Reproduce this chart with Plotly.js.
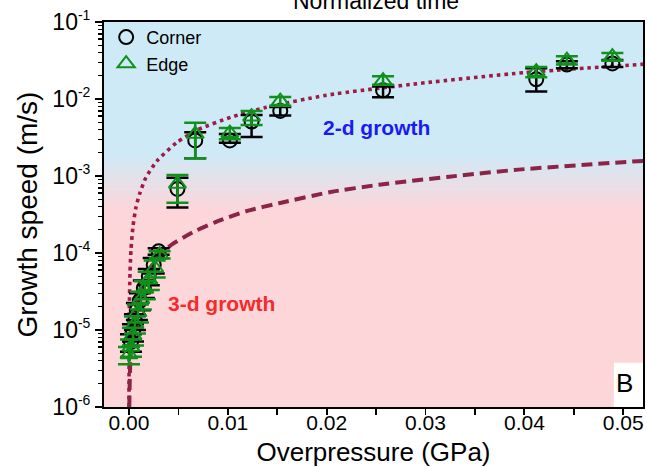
<!DOCTYPE html>
<html>
<head>
<meta charset="utf-8">
<script src="https://cdn.plot.ly/plotly-3.0.1.min.js"></script>
<style>html,body{margin:0;padding:0;background:#fff;}#chart{width:647px;height:467px;}</style>
</head>
<body>
<div id="chart"></div>
<script>
// ---- Data ----
// Corner (black open circles)
const cornerX = [0.0002, 0.0004, 0.0006, 0.0008, 0.0011, 0.0015, 0.0020, 0.0025, 0.0030, 0.0049, 0.0067, 0.0102, 0.0124, 0.0153, 0.0257, 0.0412, 0.0443, 0.0489];
const cornerY = [7.0e-6, 9.5e-6, 1.3e-5, 1.8e-5, 2.4e-5, 3.5e-5, 5.0e-5, 7.0e-5, 1.05e-4, 6.8e-4, 2.9e-3, 2.9e-3, 5.1e-3, 7.0e-3, 1.3e-2, 1.8e-2, 2.8e-2, 2.9e-2];
const cornerErrUp = [1.8e-6, 2.4e-6, 3.0e-6, 4.5e-6, 6.0e-6, 9.0e-6, 1.2e-5, 1.6e-5, 1.0e-5, 2.7e-4, 0.8e-3, 0.6e-3, 1.1e-3, 0.9e-3, 1.5e-3, 7.0e-3, 3.0e-3, 3.0e-3];
const cornerErrDn = [1.8e-6, 2.4e-6, 3.0e-6, 4.5e-6, 6.0e-6, 9.0e-6, 1.2e-5, 1.6e-5, 1.0e-5, 2.9e-4, 1.2e-3, 0.2e-3, 1.9e-3, 0.9e-3, 2.5e-3, 5.5e-3, 3.0e-3, 3.0e-3];
// Edge (green open triangles)
const edgeX = [0.0000, 0.0002, 0.0004, 0.0006, 0.0009, 0.0012, 0.0016, 0.0020, 0.0026, 0.0031, 0.0049, 0.0067, 0.0102, 0.0124, 0.0153, 0.0257, 0.0412, 0.0443, 0.0489];
const edgeY = [4.8e-6, 6.0e-6, 8.5e-6, 1.2e-5, 1.7e-5, 2.5e-5, 3.4e-5, 4.5e-5, 6.4e-5, 9.5e-5, 7.9e-4, 3.5e-3, 3.6e-3, 5.9e-3, 9.4e-3, 1.73e-2, 2.26e-2, 3.2e-2, 3.55e-2];
const edgeErrUp = [1.2e-6, 1.5e-6, 2.2e-6, 3.0e-6, 4.5e-6, 6.5e-6, 9.0e-6, 1.2e-5, 1.6e-5, 1.0e-5, 2.4e-4, 1.4e-3, 0.6e-3, 1.1e-3, 1.2e-3, 2.5e-3, 3.5e-3, 4.0e-3, 4.0e-3];
const edgeErrDn = [1.2e-6, 1.5e-6, 2.2e-6, 3.0e-6, 4.5e-6, 6.5e-6, 9.0e-6, 1.2e-5, 1.6e-5, 1.0e-5, 3.4e-4, 1.8e-3, 0.6e-3, 1.3e-3, 1.2e-3, 2.0e-3, 3.5e-3, 4.0e-3, 4.0e-3];
// 2-d growth guide (dotted)
const curve2dX = [0.000002, 0.00001, 0.00003, 0.0001, 0.0002, 0.0004, 0.0007, 0.0011, 0.0017, 0.0028, 0.0048, 0.0070, 0.0103, 0.0137, 0.0200, 0.0295, 0.0400, 0.0524];
const curve2dY = [1.0e-6, 5.5e-6, 1.7e-5, 5.5e-5, 1.1e-4, 2.2e-4, 3.9e-4, 6.0e-4, 9.5e-4, 1.55e-3, 2.7e-3, 4.0e-3, 5.8e-3, 7.7e-3, 1.12e-2, 1.6e-2, 2.2e-2, 2.85e-2];
// 3-d growth guide (dashed)
const curve3dX = [0.00003, 0.00005, 0.0001, 0.0002, 0.0004, 0.0007, 0.0012, 0.0020, 0.0030, 0.0043, 0.0066, 0.0087, 0.0119, 0.0154, 0.0204, 0.0253, 0.0324, 0.0394, 0.0465, 0.0523];
const curve3dY = [1.0e-6, 1.5e-6, 3.0e-6, 6.0e-6, 1.2e-5, 2.1e-5, 3.6e-5, 6.0e-5, 9.0e-5, 1.28e-4, 1.9e-4, 2.5e-4, 3.5e-4, 4.5e-4, 6.2e-4, 7.7e-4, 9.8e-4, 1.21e-3, 1.41e-3, 1.58e-3];
// y tick positions and labels
const yTickVals = [1e-6, 1e-5, 1e-4, 1e-3, 1e-2, 1e-1];
const yTickExps = ['-6', '-5', '-4', '-3', '-2', '-1'];

const xTitle = 'Overpressure (GPa)';
const yTitle = 'Growth speed (m/s)';
const topTitle = 'Normalized time';
const label2d = '2-d growth';
const label3d = '3-d growth';
const panelLabel = 'B';

// ---- Styling ----
const FONT = 'Liberation Sans, Arial, sans-serif';
const GREEN = '#11901c';
const CURVE = '#9c1c43';
const CURVE2 = '#8c2447';

const traces = [
  {x: curve2dX, y: curve2dY, mode: 'lines', showlegend: false, hoverinfo: 'skip',
   line: {color: CURVE, width: 3.6, dash: '3.6px,4px', shape: 'spline', smoothing: 0.6}},
  {x: curve3dX, y: curve3dY, mode: 'lines', showlegend: false, hoverinfo: 'skip',
   line: {color: CURVE2, width: 4, dash: '11px,6px', shape: 'spline', smoothing: 0.6}},
  {x: cornerX, y: cornerY, name: 'Corner', mode: 'markers', type: 'scatter',
   marker: {symbol: 'circle-open', size: 14, color: '#000', line: {width: 2, color: '#000'}},
   error_y: {type: 'data', array: cornerErrUp, arrayminus: cornerErrDn, symmetric: false,
             color: '#000', thickness: 2.5, width: 11}},
  {x: edgeX, y: edgeY, name: 'Edge', mode: 'markers', type: 'scatter',
   marker: {symbol: 'triangle-up-open', size: 15, color: GREEN, line: {width: 2, color: GREEN}},
   error_y: {type: 'data', array: edgeErrUp, arrayminus: edgeErrDn, symmetric: false,
             color: GREEN, thickness: 2.5, width: 11}}
];

// background: light blue top fading to pink bottom (paper coords; log range -6..-1)
const BLUE = [206, 234, 247];
const PINK = [253, 214, 218];
const shapes = [];
const yPaper = L => (L + 6) / 5;
shapes.push({type: 'rect', xref: 'paper', yref: 'paper', x0: 0, x1: 1, y0: yPaper(-2.7), y1: 1,
  fillcolor: `rgb(${BLUE.join(',')})`, line: {width: 0}, layer: 'below'});
shapes.push({type: 'rect', xref: 'paper', yref: 'paper', x0: 0, x1: 1, y0: 0, y1: yPaper(-3.45),
  fillcolor: `rgb(${PINK.join(',')})`, line: {width: 0}, layer: 'below'});
const NSTRIP = 30;
for (let i = 0; i < NSTRIP; i++) {
  const a = -2.7 - (0.75 * i) / NSTRIP, b = -2.7 - (0.75 * (i + 1)) / NSTRIP;
  const t = (i + 0.5) / NSTRIP;
  const c = BLUE.map((v, k) => Math.round(v + (PINK[k] - v) * t));
  shapes.push({type: 'rect', xref: 'paper', yref: 'paper', x0: 0, x1: 1, y0: yPaper(b) - 0.004, y1: yPaper(a),
    fillcolor: `rgb(${c.join(',')})`, line: {width: 0}, layer: 'below'});
}
// white corner box for panel letter
shapes.push({type: 'rect', xref: 'paper', yref: 'paper', x0: 0.946, x1: 1, y0: 0, y1: 0.115,
  fillcolor: '#ffffff', line: {width: 0}, layer: 'below'});

const yTickText = yTickExps.map(e => '10<sup><span style="font-size:14px">' + e + '</span></sup>');

const layout = {
  width: 647, height: 467,
  margin: {l: 104, r: 4, t: 22, b: 60},
  paper_bgcolor: '#ffffff', plot_bgcolor: '#ffffff',
  font: {family: FONT, color: '#000', size: 20},
  showlegend: true,
  legend: {x: 0.004, y: 1.008, xanchor: 'left', yanchor: 'top', bgcolor: 'rgba(0,0,0,0)',
           font: {family: FONT, size: 18, color: '#000'}, tracegroupgap: 0, itemwidth: 30},
  xaxis: {
    range: [-0.00253, 0.0520], dtick: 0.01, tickformat: '.2f',
    ticks: 'outside', ticklen: 6, tickwidth: 1.8, tickcolor: '#000', ticklabelstandoff: -10,
    minor: {dtick: 0.005, ticks: 'outside', ticklen: 6, tickwidth: 1.8, tickcolor: '#000', showgrid: false},
    showline: true, linewidth: 2, linecolor: '#000', mirror: true,
    showgrid: false, zeroline: false,
    tickfont: {family: FONT, size: 21, color: '#000'},
    title: {text: xTitle, font: {family: FONT, size: 26, color: '#000'}, standoff: 15}
  },
  yaxis: {
    type: 'log', range: [-6, -1], tickmode: 'array', tickvals: yTickVals, ticktext: yTickText,
    ticks: 'outside', ticklen: 7, tickwidth: 1.8, tickcolor: '#000',
    minor: {dtick: 'D1', ticks: 'outside', ticklen: 4, tickwidth: 1.2, tickcolor: '#000', showgrid: false},
    showline: true, linewidth: 2, linecolor: '#000', mirror: true,
    showgrid: false, zeroline: false,
    tickfont: {family: FONT, size: 23, color: '#000'},
    title: {text: yTitle, font: {family: FONT, size: 28, color: '#000'}, standoff: 7}
  },
  shapes: shapes,
  annotations: [
    {text: label2d, x: 0.0250, y: Math.log10(4.3e-3), xref: 'x', yref: 'y', showarrow: false,
     xanchor: 'center', yanchor: 'middle',
     font: {family: FONT, size: 21, color: '#1a1af5', weight: 'bold'}},
    {text: label3d, x: 0.0094, y: Math.log10(2.2e-5), xref: 'x', yref: 'y', showarrow: false,
     xanchor: 'center', yanchor: 'middle',
     font: {family: FONT, size: 21, color: '#f52a2a', weight: 'bold'}},
    {text: panelLabel, x: 0.966, y: 0.062, xref: 'paper', yref: 'paper', showarrow: false,
     xanchor: 'center', yanchor: 'middle',
     font: {family: FONT, size: 26, color: '#000'}},
    {text: topTitle, x: 0.505, y: 1.055, xref: 'paper', yref: 'paper', showarrow: false,
     xanchor: 'center', yanchor: 'middle', font: {family: FONT, size: 23, color: '#000'}}
  ]
};

Plotly.newPlot('chart', traces, layout, {staticPlot: true, displayModeBar: false});
</script>
</body>
</html>
